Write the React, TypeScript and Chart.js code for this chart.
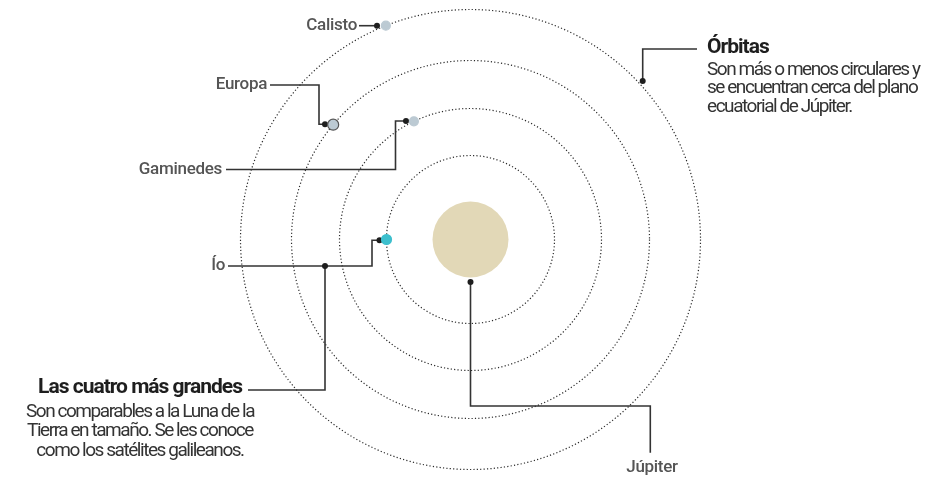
import React, { useEffect, useRef } from "react";
import { Chart, registerables } from "chart.js";
Chart.register(...registerables);

// ---- data (units: relative to Jupiter's centre, y up) ----
const ORBIT_RADII = [84, 131, 179, 230];
const JUPITER_RADIUS = 38;
const MOON_NAMES = ["Calisto", "Europa", "Gaminedes", "Ío"];
const MOON_ORBIT_INDEX = [3, 2, 1, 0];
const MOON_ANGLES_DEG = [111.6, 140.1, 115.6, 180];
const MOON_SIZES = [4.5, 5.5, 4.5, 5];
const MOON_COLORS = ["#bccad3", "#bccad3", "#bccad3", "#3dbfcd"];
const MOON_BORDERS = ["#bccad3", "#555555", "#bccad3", "#3dbfcd"];

// leader paths for annotations (same units)
const LEADERS: { x: number; y: number }[][] = [
  [{ x: -111.5, y: 213.8 }, { x: -93.5, y: 213.8 }],
  [{ x: -200.5, y: 154.5 }, { x: -151.5, y: 154.5 }, { x: -151.5, y: 115.2 }, { x: -145.5, y: 115.2 }],
  [{ x: -244.5, y: 70 }, { x: -75, y: 70 }, { x: -75, y: 118.5 }, { x: -64.5, y: 118.5 }],
  [{ x: -242.5, y: -26.5 }, { x: -98.5, y: -26.5 }, { x: -98.5, y: -0.8 }, { x: -91, y: -0.8 }],
  [{ x: -145.5, y: -26.5 }, { x: -145.5, y: -150.5 }, { x: -222.5, y: -150.5 }],
  [{ x: 172.2, y: 158.5 }, { x: 172.2, y: 190.5 }, { x: 226.5, y: 190.5 }],
  [{ x: 0, y: -42.5 }, { x: 0, y: -166.5 }, { x: 179.8, y: -166.5 }, { x: 179.8, y: -213.2 }],
];
const LEADER_DOTS = [
  { x: -93.5, y: 213.8 },
  { x: -145.5, y: 115.2 },
  { x: -64.5, y: 118.5 },
  { x: -91, y: -0.8 },
  { x: -145.5, y: -26.5 },
  { x: 172.2, y: 158.5 },
  { x: 0, y: -42.5 },
];

const MOON_LABEL_POS = [
  { x: -113.5, y: 213.8 },
  { x: -203.5, y: 154.5 },
  { x: -248.5, y: 70 },
  { x: -245.5, y: -26.5 },
];
const JUPITER_LABEL = "Júpiter";
const JUPITER_LABEL_POS = { x: 181.5, y: -228.5 };

const NOTE_ORBITS_TITLE = "Órbitas";
const NOTE_ORBITS_LINES = [
  "Son más o menos circulares y",
  "se encuentran cerca del plano",
  "ecuatorial de Júpiter.",
];
const NOTE_ORBITS_POS = { x: 236.5, y: 191.5 };

const NOTE_MOONS_TITLE = "Las cuatro más grandes";
const NOTE_MOONS_LINES = [
  "Son comparables a la Luna de la",
  "Tierra en tamaño. Se les conoce",
  "como los satélites galileanos.",
];
const NOTE_MOONS_POS = { x: -330.5, y: -148.5 };

const W = 935;
const H = 480;
const CX = 470.5;
const CY = 239.5;

export default function App() {
  const ref = useRef<HTMLCanvasElement | null>(null);

  useEffect(() => {
    if (!ref.current) return;
    document.body.style.margin = "0";

    const moonPoints = MOON_NAMES.map((_, i) => {
      const r = ORBIT_RADII[MOON_ORBIT_INDEX[i]];
      const a = (MOON_ANGLES_DEG[i] * Math.PI) / 180;
      return { x: r * Math.cos(a), y: r * Math.sin(a) };
    });

    const backgroundPlugin = {
      id: "orbits",
      beforeDatasetsDraw(chart: any) {
        const { ctx, scales } = chart;
        const xs = scales.x;
        const ys = scales.y;
        const cx = xs.getPixelForValue(0);
        const cy = ys.getPixelForValue(0);
        const unit = xs.getPixelForValue(1) - xs.getPixelForValue(0);
        ctx.save();
        ctx.strokeStyle = "#2a2a2a";
        ctx.lineWidth = 1.2;
        ctx.setLineDash([1.2, 2.2]);
        ORBIT_RADII.forEach((r) => {
          ctx.beginPath();
          ctx.arc(cx, cy, r * unit, 0, Math.PI * 2);
          ctx.stroke();
        });
        ctx.setLineDash([]);
        ctx.fillStyle = "#e2d8b7";
        ctx.beginPath();
        ctx.arc(cx, cy, JUPITER_RADIUS * unit, 0, Math.PI * 2);
        ctx.fill();
        ctx.restore();
      },
    };

    const textPlugin = {
      id: "texts",
      afterDraw(chart: any) {
        const { ctx, scales } = chart;
        const px = (p: { x: number; y: number }) => [
          scales.x.getPixelForValue(p.x),
          scales.y.getPixelForValue(p.y),
        ];
        ctx.save();
        ctx.textBaseline = "middle";
        const setLS = (v: string) => {
          try {
            (ctx as any).letterSpacing = v;
          } catch (e) {}
        };
        // moon labels
        ctx.fillStyle = "#555555";
        ctx.font = "500 17px Roboto, 'Noto Sans', sans-serif";
        setLS("-0.3px");
        ctx.textAlign = "right";
        MOON_NAMES.forEach((n, i) => {
          const [x, y] = px(MOON_LABEL_POS[i]);
          ctx.fillText(n, x, y);
        });
        ctx.textAlign = "center";
        {
          const [x, y] = px(JUPITER_LABEL_POS);
          ctx.fillText(JUPITER_LABEL, x, y);
        }
        // Órbitas note
        {
          const [x, y] = px(NOTE_ORBITS_POS);
          ctx.textAlign = "left";
          ctx.fillStyle = "#1e1e1e";
          ctx.font = "bold 21px Roboto, 'Noto Sans', sans-serif";
          setLS("-1px");
          ctx.fillText(NOTE_ORBITS_TITLE, x, y);
          ctx.fillStyle = "#333333";
          ctx.font = "400 19px Roboto, 'Noto Sans', sans-serif";
          setLS("-1.45px");
          NOTE_ORBITS_LINES.forEach((l, i) => ctx.fillText(l, x, y + 22 + i * 18.5));
        }
        // Las cuatro note
        {
          const [x, y] = px(NOTE_MOONS_POS);
          ctx.textAlign = "center";
          ctx.fillStyle = "#1e1e1e";
          ctx.font = "bold 21px Roboto, 'Noto Sans', sans-serif";
          setLS("-1px");
          ctx.fillText(NOTE_MOONS_TITLE, x, y);
          ctx.fillStyle = "#333333";
          ctx.font = "400 19px Roboto, 'Noto Sans', sans-serif";
          setLS("-1.45px");
          NOTE_MOONS_LINES.forEach((l, i) => ctx.fillText(l, x, y + 24 + i * 19.5));
        }
        ctx.restore();
      },
    };

    const datasets: any[] = [
      {
        label: "moons",
        data: moonPoints,
        pointRadius: MOON_SIZES,
        pointBackgroundColor: MOON_COLORS,
        pointBorderColor: MOON_BORDERS,
        pointBorderWidth: 1.2,
        showLine: false,
      },
      {
        label: "dots",
        data: LEADER_DOTS,
        pointRadius: 3,
        pointBackgroundColor: "#1e1e1e",
        pointBorderWidth: 0,
        showLine: false,
      },
      ...LEADERS.map((path, i) => ({
        label: "leader" + i,
        data: path,
        showLine: true,
        borderColor: "#333333",
        borderWidth: 1.6,
        pointRadius: 0,
        tension: 0,
        fill: false,
      })),
    ];

    const chart = new Chart(ref.current, {
      type: "scatter",
      data: { datasets },
      options: {
        animation: false,
        responsive: false,
        maintainAspectRatio: false,
        layout: { padding: 0, autoPadding: false },
        plugins: { legend: { display: false }, tooltip: { enabled: false } },
        scales: {
          x: { type: "linear", min: -CX, max: W - CX, display: false },
          y: { type: "linear", min: -(H - CY), max: CY, display: false },
        },
      },
      plugins: [backgroundPlugin, textPlugin],
    } as any);
    return () => chart.destroy();
  }, []);

  return (
    <div style={{ position: "absolute", left: 0, top: 0, width: W, height: H, background: "#fff" }}>
      <canvas ref={ref} width={W} height={H} style={{ width: W, height: H, display: "block" }} />
    </div>
  );
}
